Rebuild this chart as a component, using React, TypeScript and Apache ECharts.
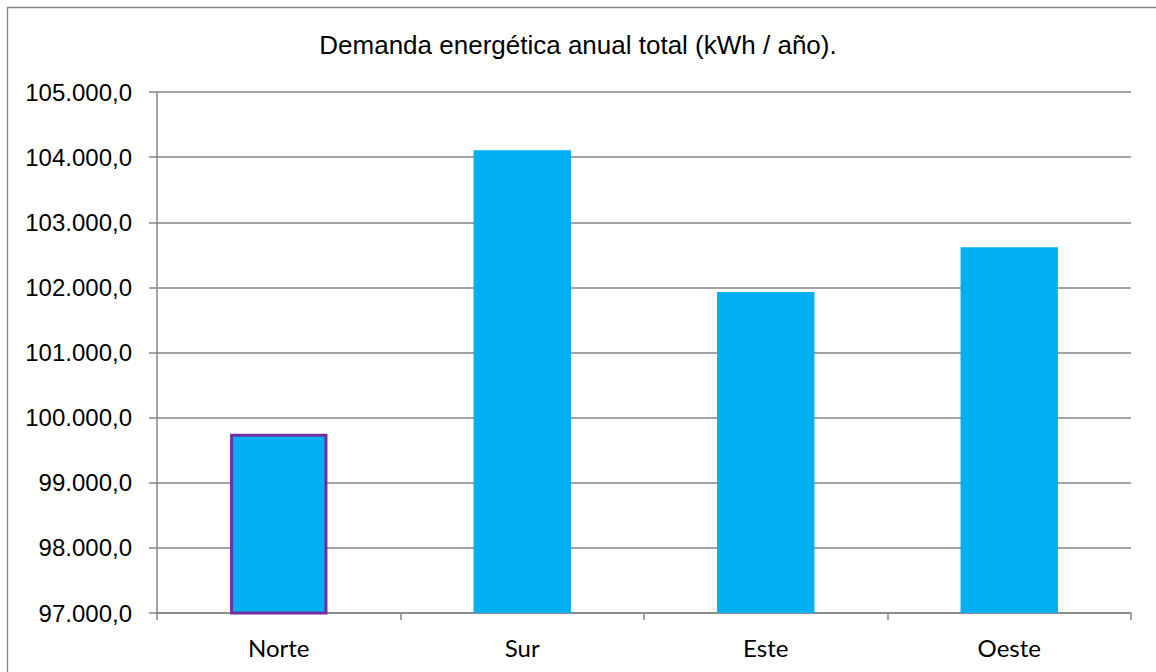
import React, { useEffect, useRef } from "react";
import * as echarts from "echarts";

const categories = ["Norte", "Sur", "Este", "Oeste"];
const demanda = [99754, 104105, 101930, 102615];
const titleText = "Demanda energética anual total (kWh / año).";

function fmt(v: number): string {
  const s = Math.round(v).toString();
  const withDots = s.replace(/\B(?=(\d{3})+(?!\d))/g, ".");
  return withDots + ",0";
}

export default function App() {
  const ref = useRef<HTMLDivElement>(null);
  useEffect(() => {
    if (!ref.current) return;
    const chart = echarts.init(ref.current, null, { renderer: "svg" });
    chart.setOption({
      animation: false,
      backgroundColor: "#ffffff",
      title: {
        text: titleText,
        left: "center",
        top: 27,
        textStyle: {
          fontFamily: "Liberation Sans",
          fontSize: 26,
          fontWeight: "normal",
          color: "#000000",
        },
      },
      graphic: [
        {
          type: "rect",
          shape: { x: 7.5, y: 7.5, width: 1200, height: 700 },
          style: { fill: "none", stroke: "#868686", lineWidth: 1.3 },
          silent: true,
        },
      ],
      grid: { left: 157, right: 25, top: 92, bottom: 59, containLabel: false },
      xAxis: {
        type: "category",
        data: categories,
        axisLine: { show: true, lineStyle: { color: "#868686", width: 1.5 } },
        axisTick: { show: true, length: 7, lineStyle: { color: "#868686", width: 1.5 } },
        axisLabel: {
          margin: 22,
          fontFamily: "Lato",
          fontSize: 24,
          color: "#000000",
        },
      },
      yAxis: {
        type: "value",
        min: 97000,
        max: 105000,
        interval: 1000,
        axisLine: { show: true, lineStyle: { color: "#868686", width: 1.5 } },
        axisTick: { show: true, length: 8, lineStyle: { color: "#868686", width: 1.5 } },
        splitLine: { show: true, lineStyle: { color: "#868686", width: 1.5 } },
        axisLabel: {
          margin: 25,
          fontFamily: "Liberation Sans",
          fontSize: 24,
          color: "#000000",
          formatter: (v: number) => fmt(v),
        },
      },
      series: [
        {
          type: "bar",
          barWidth: "40%",
          data: demanda.map((v, i) =>
            i === 0
              ? { value: v, itemStyle: { color: "#00B0F0", borderColor: "#7030A0", borderWidth: 3 } }
              : { value: v, itemStyle: { color: "#00B0F0" } }
          ),
        },
      ],
    });
    return () => chart.dispose();
  }, []);
  return (
    <div
      ref={ref}
      style={{ position: "absolute", left: 0, top: 0, width: 1156, height: 672 }}
    />
  );
}
